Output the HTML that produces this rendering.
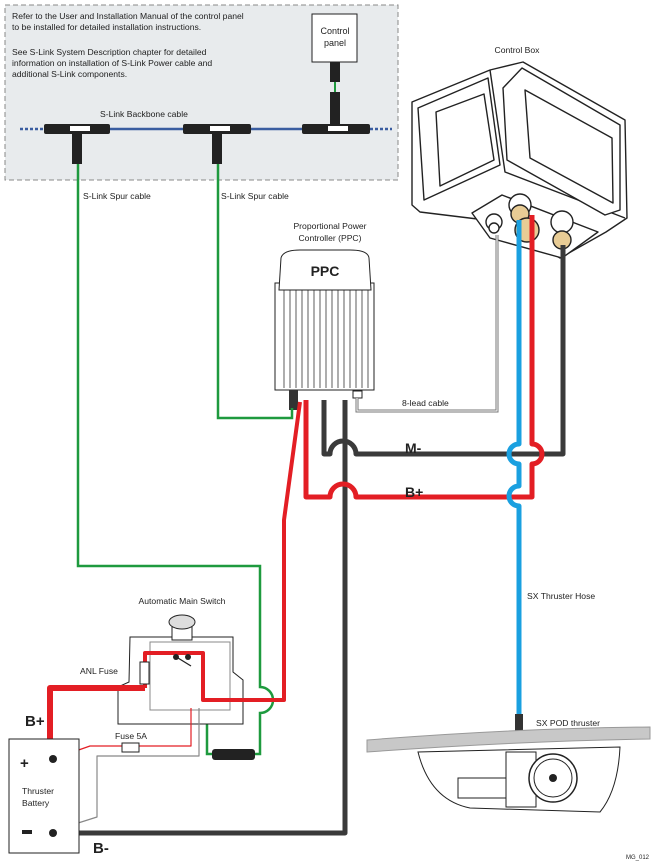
<!DOCTYPE html>
<html><head><meta charset="utf-8"><style>
html,body{margin:0;padding:0;background:#fff}
svg{display:block}
text{font-family:"Liberation Sans",sans-serif;fill:#222}
</style></head><body>
<svg width="654" height="865" viewBox="0 0 654 865" xmlns="http://www.w3.org/2000/svg">
<rect x="5" y="5" width="393" height="175" fill="#e8ebed" stroke="#888" stroke-dasharray="5,3"/>
<g font-size="8.6">
<text x="12" y="19">Refer to the User and Installation Manual of the control panel</text>
<text x="12" y="30">to be installed for detailed installation instructions.</text>
<text x="12" y="55">See S-Link System Description chapter for detailed</text>
<text x="12" y="66">information on installation of S-Link Power cable and</text>
<text x="12" y="77">additional S-Link components.</text>
<text x="100" y="117">S-Link Backbone cable</text>
<text x="83" y="199">S-Link Spur cable</text>
<text x="221" y="199">S-Link Spur cable</text>
</g>
<rect x="312" y="14" width="45" height="48" fill="#fff" stroke="#222"/>
<text x="335" y="34" font-size="9" text-anchor="middle">Control</text>
<text x="335" y="46" font-size="9" text-anchor="middle">panel</text>
<line x1="20" y1="129" x2="45" y2="129" stroke="#3a5da0" stroke-width="2.5" stroke-dasharray="3,2"/>
<line x1="370" y1="129" x2="392" y2="129" stroke="#3a5da0" stroke-width="2.5" stroke-dasharray="3,2"/>
<line x1="45" y1="129" x2="370" y2="129" stroke="#3a5da0" stroke-width="2.5"/>
<line x1="335" y1="80" x2="335" y2="100" stroke="#1e9a3e" stroke-width="2"/>
<g fill="#222">
<rect x="44" y="124" width="66" height="10" rx="2"/><rect x="72" y="134" width="10" height="30"/>
<rect x="183" y="124" width="68" height="10" rx="2"/><rect x="212" y="134" width="10" height="30"/>
<rect x="302" y="124" width="68" height="10" rx="2"/><rect x="330" y="62" width="10" height="20"/><rect x="330" y="92" width="10" height="32"/>
</g>
<g fill="#fff"><rect x="70" y="126" width="20" height="5"/><rect x="210" y="126" width="20" height="5"/><rect x="328" y="126" width="20" height="5"/></g>
<text x="517" y="53" font-size="8.6" text-anchor="middle">Control Box</text>
<g fill="#fff" stroke="#222" stroke-width="1.4" stroke-linejoin="round">
<polygon points="412,102 490,70 523,62 625,120 627,218 606,232 560,258 502,222 420,212 412,205"/>
<polygon points="418,108 488,78 500,165 424,200"/>
<polygon points="436,112 484,94 494,160 440,186"/>
<polyline points="490,70 505,172 625,218" fill="none"/>
<polygon points="503,88 522,68 620,125 620,210 605,215 507,160"/>
<polygon points="525,90 612,138 613,203 530,158"/>
<polygon points="472,213 502,195 598,232 562,258 490,238"/>
<circle cx="494" cy="222" r="8"/><circle cx="494" cy="228" r="5"/>
<circle cx="520" cy="205" r="11"/><circle cx="520" cy="214" r="9" fill="#e8cc95"/>
<circle cx="527" cy="230" r="12" fill="#e8cc95"/>
<circle cx="562" cy="222" r="11"/><circle cx="562" cy="240" r="9" fill="#e8cc95"/>
</g>
<text x="330" y="229" font-size="8.6" text-anchor="middle">Proportional Power</text>
<text x="330" y="241" font-size="8.6" text-anchor="middle">Controller (PPC)</text>
<rect x="275" y="283" width="99" height="107" fill="#fff" stroke="#222"/>
<g stroke="#333" stroke-width="0.8">
<line x1="284" y1="290" x2="284" y2="388"/><line x1="290" y1="290" x2="290" y2="388"/><line x1="296" y1="290" x2="296" y2="388"/><line x1="302" y1="290" x2="302" y2="388"/><line x1="308" y1="290" x2="308" y2="388"/><line x1="314" y1="290" x2="314" y2="388"/><line x1="320" y1="290" x2="320" y2="388"/><line x1="326" y1="290" x2="326" y2="388"/><line x1="332" y1="290" x2="332" y2="388"/><line x1="338" y1="290" x2="338" y2="388"/><line x1="344" y1="290" x2="344" y2="388"/><line x1="350" y1="290" x2="350" y2="388"/><line x1="356" y1="290" x2="356" y2="388"/><line x1="362" y1="290" x2="362" y2="388"/><line x1="368" y1="290" x2="368" y2="388"/>
</g>
<path d="M279,290 L281,258 Q283,250 300,250 L350,250 Q368,250 369,258 L371,290 Z" fill="#fff" stroke="#222"/>
<text x="325" y="276" font-size="14" font-weight="bold" text-anchor="middle">PPC</text>
<rect x="289" y="390" width="9" height="20" fill="#333"/>
<rect x="353" y="391" width="9" height="7" fill="#fff" stroke="#222"/>
<path d="M357,398 V411 H497 V235" fill="none" stroke="#777" stroke-width="3"/>
<path d="M357,398 V411 H497 V235" fill="none" stroke="#fff" stroke-width="1"/>
<text x="402" y="406" font-size="8.6">8-lead cable</text>
<g fill="none" stroke="#1e9a3e" stroke-width="2.5">
<path d="M218,164 V418 H292 V408"/>
<path d="M78,164 V566 H260 V687 A13,13 0 0 1 260,713 V754 H250"/>
<path d="M215,754 H207 V708"/>
</g>
<rect x="212" y="749" width="43" height="11" rx="3" fill="#222"/>
<text x="182" y="604" font-size="8.6" text-anchor="middle">Automatic Main Switch</text>
<path d="M130,637 H233 V672 L243,680 V724 H118 V687 L129,682 Z" fill="#fff" stroke="#222"/>
<rect x="150" y="642" width="80" height="68" fill="#fff" stroke="#888"/>
<rect x="172" y="626" width="20" height="14" fill="#fff" stroke="#222"/>
<ellipse cx="182" cy="622" rx="13" ry="7" fill="#ddd" stroke="#222"/>
<text x="80" y="674" font-size="8.6">ANL Fuse</text>
<g fill="none" stroke-linejoin="round">
<path d="M53,833 H345 V400" stroke="#3a3a3a" stroke-width="5"/>
<path d="M324,400 V454 H330 A13,13 0 0 1 356,454 H563 V245" stroke="#3a3a3a" stroke-width="5"/>
<path d="M306,400 V497 H330 A13,13 0 0 1 356,497 H532 V464 A10,10 0 0 0 532,444 V215" stroke="#e31e24" stroke-width="5"/>
<path d="M300,402 L284,520 V700 H203 V653 H145 V688" stroke="#e31e24" stroke-width="4"/>
<path d="M145,688 H50 V759" stroke="#e31e24" stroke-width="6"/>
<path d="M519,220 V444 A10,10 0 0 0 519,464 V486 A10,10 0 0 0 519,506 V716" stroke="#1aa0e0" stroke-width="5"/>
<path d="M53,759 L90,746 H191 V708" stroke="#e31e24" stroke-width="1.2"/>
<path d="M53,831 L97,817 V756 H199 V708" stroke="#888" stroke-width="1.2"/>
</g>
<rect x="140" y="662" width="9" height="22" fill="#fff" stroke="#222"/>
<rect x="122" y="743" width="17" height="9" fill="#fff" stroke="#222"/>
<text x="115" y="739" font-size="8.6">Fuse 5A</text>
<circle cx="176" cy="657" r="3" fill="#222"/><circle cx="188" cy="657" r="3" fill="#222"/>
<line x1="178" y1="658" x2="191" y2="666" stroke="#222" stroke-width="1.3"/>
<rect x="9" y="739" width="70" height="114" fill="#fff" stroke="#222"/>
<circle cx="53" cy="759" r="4" fill="#222"/><circle cx="53" cy="833" r="4" fill="#222"/>
<text x="20" y="768" font-size="15" font-weight="bold">+</text>
<rect x="22" y="830" width="10" height="4" fill="#222"/>
<text x="22" y="794" font-size="8.6">Thruster</text>
<text x="22" y="806" font-size="8.6">Battery</text>
<text x="25" y="726" font-size="15" font-weight="bold">B+</text>
<text x="93" y="853" font-size="15" font-weight="bold">B-</text>
<text x="405" y="453" font-size="14" font-weight="bold">M-</text>
<text x="405" y="497" font-size="14" font-weight="bold">B+</text>
<text x="527" y="599" font-size="8.6">SX Thruster Hose</text>
<rect x="515" y="714" width="8" height="22" fill="#333"/>
<text x="536" y="726" font-size="8.6">SX POD thruster</text>
<path d="M418,752 Q430,800 470,808 L600,812 Q618,790 620,747 Z" fill="#fff" stroke="#222"/>
<path d="M367,740 Q520,728 650,727 L650,739 Q520,741 367,752 Z" fill="#c8c8c8" stroke="#999"/>
<rect x="506" y="752" width="30" height="55" fill="#fff" stroke="#222"/>
<rect x="458" y="778" width="48" height="20" fill="#fff" stroke="#222"/>
<circle cx="553" cy="778" r="24" fill="#fff" stroke="#222" stroke-width="1.5"/>
<circle cx="553" cy="778" r="19" fill="#fff" stroke="#222"/>
<circle cx="553" cy="778" r="4" fill="#222"/>
<text x="626" y="859" font-size="6">MG_012</text>
</svg>
</body></html>
